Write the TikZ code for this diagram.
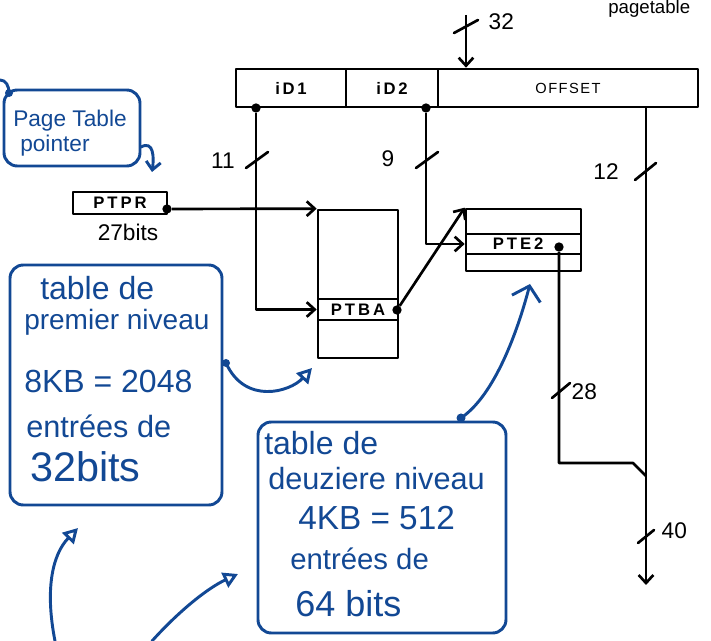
\documentclass[tikz,border=0pt]{standalone}
\usepackage{fontspec}
\setmainfont{Liberation Sans}
\usetikzlibrary{arrows.meta,fit,calc}
\definecolor{inkblue}{RGB}{18,72,148}
\begin{document}
\begin{tikzpicture}[x=0.75pt,y=-0.75pt,
  blk/.style={line width=2pt,black,line join=round},
  field/.style={blk,draw,rectangle,inner sep=0pt},
  arr/.style={blk,-{Straight Barb[length=6pt,width=11pt]}},
  dotc/.style={circle,fill=black,inner sep=0pt,minimum size=7pt},
  lbl/.style={font=\fontsize{17}{17}\selectfont},
  caps/.style={font=\fontsize{12.5}{12.5}\selectfont\addfontfeature{LetterSpace=18}\bfseries},
  blu/.style={line width=2.2pt,inkblue,line cap=round,line join=round},
  bbox/.style={blu,draw,rectangle,rounded corners=10pt,inner sep=0pt},
  btxt/.style={text=inkblue,anchor=base west,inner sep=0pt},
  tri/.style={blu,-{Triangle[open,length=11pt,width=12pt]}},
  vee/.style={blu,-{Straight Barb[length=10pt,width=22pt]}},
  tick/.style={blk,line cap=round}]
\useasboundingbox (0,0) rectangle (711,641);

% text at top right
\node[anchor=base west,inner sep=0pt,font=\fontsize{14}{14}\selectfont] (cut) at (608,14) {pagetable};

% address register
\node[field,fit={(236,69)(346,107)},label={[caps]center:i\,D\,1}] (id1) {};
\node[field,fit={(346,69)(438,107)},label={[caps]center:i\,D\,2}] (id2) {};
\node[field,fit={(438,69)(698,107)},label={[font=\fontsize{11}{11}\selectfont\addfontfeature{LetterSpace=10}]center:OFFSET}] (off) {};

% input arrow 32
\coordinate (in32) at (466,15);
\draw[arr] (in32) -- (off.north -| in32);
\draw[tick] (454,33) -- (478,20);
\node[lbl,anchor=west] (l32) at (484,22) {32};

% PTPR register
\node[field,fit={(73,192)(167,214)},label={[caps]center:PTPR}] (ptpr) {};
\node[anchor=base,inner sep=0pt,font=\fontsize{17}{17}\selectfont] (b27) at (128,241) {27bits};
\node[dotc] (pd) at (167,209) {};

% first level table
\node[field,fit={(318,210)(398,358)}] (ptba) {};
\node[field,fit={(318,299)(398,320)},label={[caps]center:PTBA}] (ptbarow) {};
\node[dotc] (ad) at (397,310) {};

% second level table
\node[field,fit={(466,209)(581,271)}] (pte2) {};
\node[field,fit={(466,234)(581,254)},label={[caps,xshift=-4pt]center:PTE2}] (pte2row) {};
\node[dotc] (ed) at (559,247) {};

% dots on the register
\node[dotc] (d1) at (256,108) {};
\node[dotc] (d2) at (426,108) {};

% connectors
\draw[arr] (pd) -- (ptba.north west);
\draw[arr] (d1) |- (ptbarow.west);
\draw[arr] (d2) |- (pte2row.west);
\draw[arr] (ad) -- (pte2.north west);
\coordinate (join) at (646,476);
\coordinate (outp) at (646,585);
\draw[blk] (ed) -- (559,463) -- (633,463) -- (join);
\draw[arr] (off.south -| join) -- (outp);

% bus width ticks
\draw[tick] (246,168) -- (268,152);
\node[lbl] (l11) at (223,161) {11};
\draw[tick] (416,168) -- (438,152);
\node[lbl] (l9) at (388,159) {9};
\draw[tick] (635,180) -- (656,163);
\node[lbl] (l12) at (606,172) {12};
\draw[tick] (552,398) -- (570,383);
\node[lbl,anchor=west] (l28) at (567,392) {28};
\draw[tick] (638,543) -- (654,530);
\node[lbl,anchor=west] (l40) at (657,531) {40};

% blue annotations
\node[bbox,fit={(4,90)(140,166)}] (ptpbox) {};
\node[btxt,font=\fontsize{17}{17}\selectfont] (t1) at (13,127) {Page Table};
\node[btxt,font=\fontsize{17}{17}\selectfont] (t2) at (20,152) {pointer};
\fill[inkblue] (9,93) circle (4);
\draw[blu] (0,80) .. controls (6,80) and (9,86) .. (9,93);
\coordinate (pa) at (141,147);
\coordinate (pb) at (152,172);
\draw[blu,-{Straight Barb[length=6pt,width=11pt]}] (pa) .. controls (154,140) and (154,158) .. (pb);

\node[bbox,fit={(10,265)(222,505)}] (box1) {};
\node[btxt,font=\fontsize{24}{24}\selectfont] (a1) at (40,300) {table de};
\node[btxt,font=\fontsize{21}{21}\selectfont] (a2) at (24,330) {premier niveau};
\node[btxt,font=\fontsize{24}{24}\selectfont] (a3) at (24,393) {8KB = 2048};
\node[btxt,font=\fontsize{23}{23}\selectfont] (a4) at (26,438) {entrées de};
\node[btxt,font=\fontsize{31}{31}\selectfont] (a5) at (30,482) {32bits};

\node[bbox,fit={(258,422)(506,633)}] (box2) {};
\node[btxt,font=\fontsize{24}{24}\selectfont] (c1) at (264,455) {table de};
\node[btxt,font=\fontsize{23}{23}\selectfont] (c2) at (268,490) {deuziere niveau};
\node[btxt,font=\fontsize{25}{25}\selectfont] (c3) at (298,530) {4KB = 512};
\node[btxt,font=\fontsize{22}{22}\selectfont] (c4) at (290,570) {entrées de};
\node[btxt,font=\fontsize{27}{27}\selectfont] (c5) at (295,617) {64 bits};

% blue arrows
\coordinate (s1) at (226,363);
\fill[inkblue] (s1) circle (4);
\coordinate (e1) at (312,368);
\draw[tri] (s1) .. controls (245,405) and (290,392) .. (e1);
\coordinate (s2) at (461,418);
\fill[inkblue] (s2) circle (4.5);
\coordinate (e2) at (530,284);
\draw[vee] (s2) .. controls (495,395) and (518,330) .. (e2);
\coordinate (s3) at (55,641);
\coordinate (e3) at (78,528);
\draw[tri] (s3) .. controls (45,590) and (52,555) .. (e3);
\coordinate (s4) at (152,641);
\coordinate (e4) at (238,574);
\draw[tri] (s4) .. controls (180,610) and (208,588) .. (e4);
\end{tikzpicture}
\end{document}
